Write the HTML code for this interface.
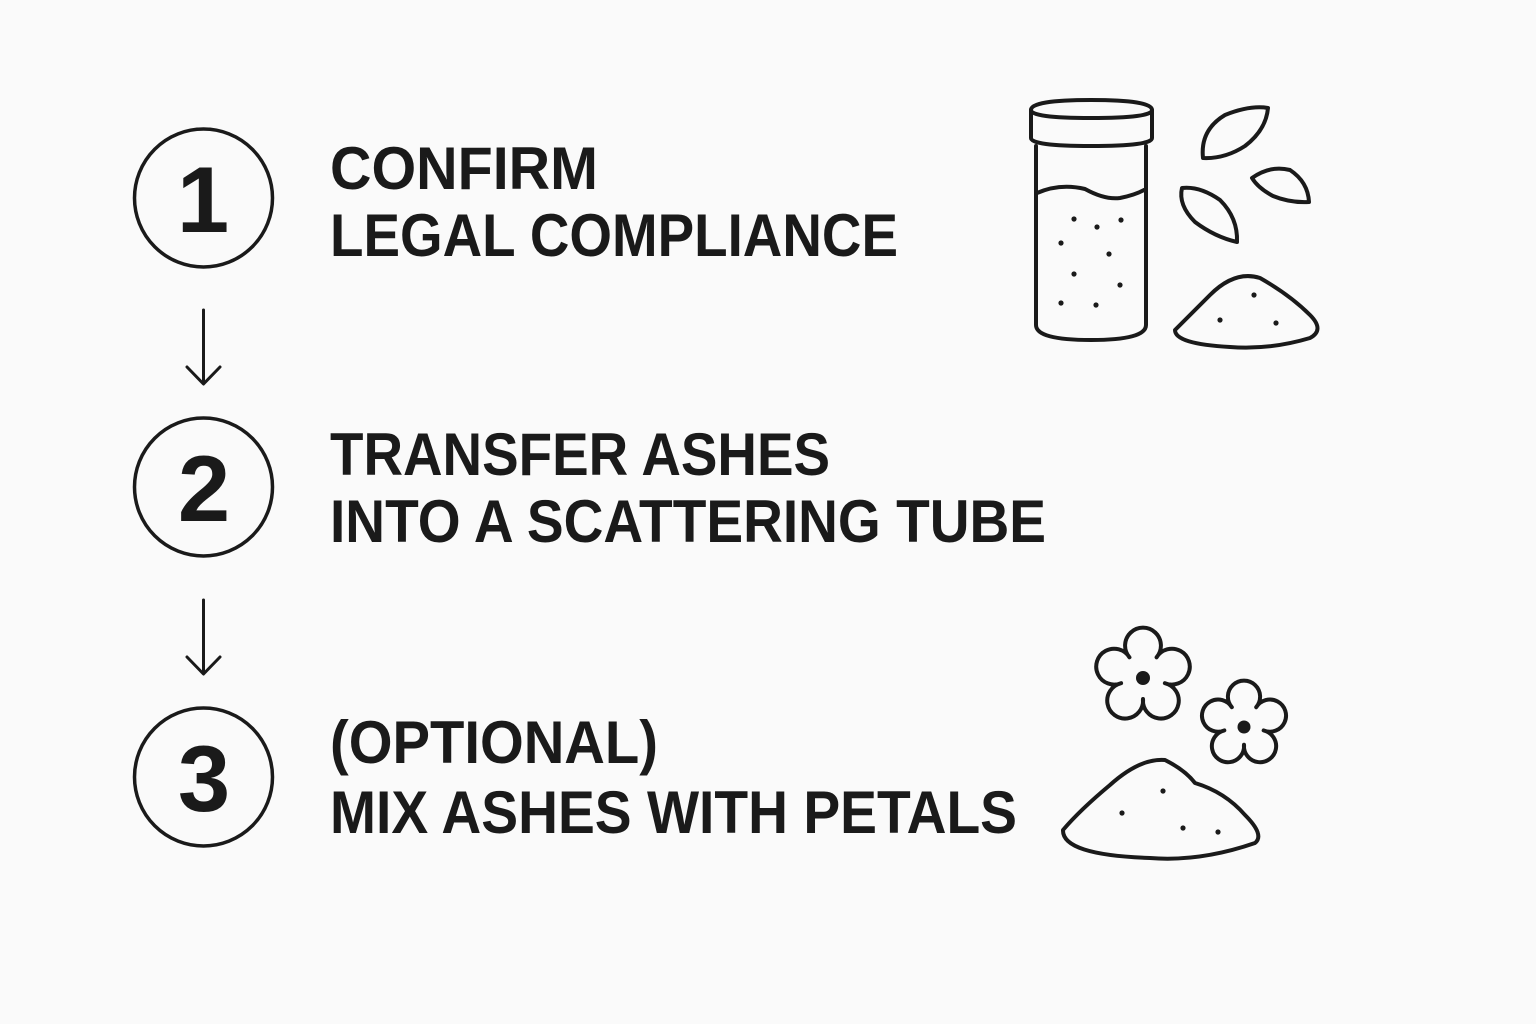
<!DOCTYPE html>
<html><head><meta charset="utf-8"><style>
html,body{margin:0;padding:0;background:#fafafa;}
svg{display:block}
text{font-family:"Liberation Sans",sans-serif;font-weight:bold;fill:#1a1a1a}
</style></head><body>
<svg width="1536" height="1024" viewBox="0 0 1536 1024" xmlns="http://www.w3.org/2000/svg">
<rect width="1536" height="1024" fill="#fafafa"/>
<g fill="none" stroke="#1a1a1a" stroke-width="3.5">
<circle cx="203.5" cy="198" r="69"/>
<circle cx="203.5" cy="487" r="69"/>
<circle cx="203.5" cy="777" r="69"/>
<g stroke-width="3" stroke-linecap="round" stroke-linejoin="round">
<path d="M203.5 310 V383 M187 367 L203.5 384 L220 367"/>
<path d="M203.5 600 V673 M187 657 L203.5 674 L220 657"/>
</g>
</g>
<g font-size="94" text-anchor="middle">
<text x="203" y="232">1</text>
<text x="204" y="521">2</text>
<text x="204" y="811">3</text>
</g>
<g font-size="60">
<text x="330" y="189" textLength="268" lengthAdjust="spacingAndGlyphs">CONFIRM</text>
<text x="330" y="256" textLength="568" lengthAdjust="spacingAndGlyphs">LEGAL COMPLIANCE</text>
<text x="330" y="475" textLength="500" lengthAdjust="spacingAndGlyphs">TRANSFER ASHES</text>
<text x="330" y="542" textLength="716" lengthAdjust="spacingAndGlyphs">INTO A SCATTERING TUBE</text>
<text x="330" y="763" textLength="328" lengthAdjust="spacingAndGlyphs">(OPTIONAL)</text>
<text x="330" y="833" textLength="687" lengthAdjust="spacingAndGlyphs">MIX ASHES WITH PETALS</text>
</g>
<g fill="none" stroke="#1a1a1a" stroke-width="4" stroke-linejoin="round" stroke-linecap="round">
<path d="M1031 110 Q1031 100 1091 100 Q1152 100 1152 110 V138 Q1152 146 1091 146 Q1031 146 1031 138 Z"/>
<path d="M1031 110 Q1031 118 1091 118 Q1152 118 1152 110"/>
<path d="M1036 146 V325 Q1036 340 1091 340 Q1146 340 1146 325 V146"/>
<path d="M1037 193 Q1060 183 1085 189 Q1105 200 1120 198 Q1135 195 1144 190"/>
<path d="M1203 158 Q1200 130 1225 115 Q1250 105 1268 108 Q1266 130 1245 146 Q1225 159 1203 158 Z"/>
<path d="M1252 178 Q1270 165 1290 170 Q1308 182 1309 202 Q1290 203 1273 196 Q1258 188 1252 178 Z"/>
<path d="M1182 188 Q1200 186 1220 200 Q1238 218 1237 242 Q1215 237 1195 222 Q1178 205 1182 188 Z"/>
<path d="M1175 330 Q1190 315 1210 295 Q1235 270 1260 278 Q1290 295 1310 315 Q1325 330 1310 338 Q1270 350 1230 347 Q1175 344 1175 330 Z"/>
<path d="M1063 830 Q1080 810 1110 785 Q1140 758 1165 760 Q1185 770 1195 783 Q1225 792 1245 815 Q1265 835 1255 843 Q1200 862 1150 858 Q1062 855 1063 830 Z"/>
<g transform="translate(1143 676) scale(1.28)"><path vector-effect="non-scaling-stroke" d="M-10.6 -14.6 A14 14 0 1 1 10.6 -14.6 A14 14 0 1 1 17.1 5.6 A14 14 0 1 1 0 18 A14 14 0 1 1 -17.1 5.6 A14 14 0 1 1 -10.6 -14.6 Z"/></g>
<g transform="translate(1244 724) scale(1.15)"><path vector-effect="non-scaling-stroke" d="M-10.6 -14.6 A14 14 0 1 1 10.6 -14.6 A14 14 0 1 1 17.1 5.6 A14 14 0 1 1 0 18 A14 14 0 1 1 -17.1 5.6 A14 14 0 1 1 -10.6 -14.6 Z"/></g>
</g>
<g fill="#1a1a1a">
<circle cx="1143" cy="678" r="7"/><circle cx="1244" cy="727" r="6.5"/>
<circle cx="1074" cy="219" r="2.6"/><circle cx="1097" cy="227" r="2.6"/><circle cx="1121" cy="220" r="2.6"/>
<circle cx="1061" cy="243" r="2.6"/><circle cx="1109" cy="254" r="2.6"/><circle cx="1074" cy="274" r="2.6"/>
<circle cx="1120" cy="285" r="2.6"/><circle cx="1061" cy="303" r="2.6"/><circle cx="1096" cy="305" r="2.6"/>
<circle cx="1254" cy="295" r="2.6"/><circle cx="1220" cy="320" r="2.6"/><circle cx="1276" cy="323" r="2.6"/>
<circle cx="1163" cy="791" r="2.6"/><circle cx="1122" cy="813" r="2.6"/><circle cx="1183" cy="828" r="2.6"/><circle cx="1218" cy="832" r="2.6"/>
</g>
</svg>
</body></html>
